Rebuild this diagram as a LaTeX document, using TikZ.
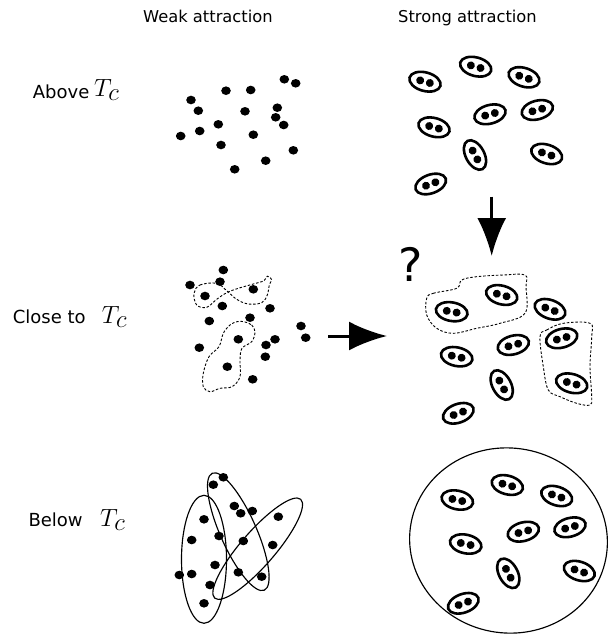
\documentclass[tikz,border=0pt]{standalone}
\usepackage{fontspec}
\setmainfont{DejaVu Sans}
\usetikzlibrary{arrows.meta}
\begin{document}
\begin{tikzpicture}[x=1pt,y=-1pt,
  pairline/.style={line width=2.6pt},
  thinell/.style={line width=1.15pt},
  dashoutline/.style={line width=0.9pt, dash pattern=on 2.5pt off 1.8pt},
  bigarrow/.style={line width=3pt,-{Latex[length=38pt,width=29pt]}},
  pr/.pic={\draw[pairline] (0,0) ellipse [x radius=16, y radius=9.3];
           \fill (-5,0) circle[radius=4]; \fill (5,0) circle[radius=4];},
  hdr/.style={anchor=base west, inner sep=0pt, font=\fontsize{16.3}{16.3}\selectfont},
  lbl/.style={anchor=base west, inner sep=0pt, font=\fontsize{18}{18}\selectfont},
  tc/.style={anchor=base west, inner sep=0pt, font=\fontsize{33}{33}\selectfont},
  qm/.style={anchor=base west, inner sep=0pt, font=\fontsize{46}{46}\selectfont}
]
\fill[white] (0,0) rectangle (611,637);
\useasboundingbox (0,0) rectangle (611,637);

% headers
\node[hdr] (hweak) at (143,23) {Weak attraction};
\node[hdr] (hstrong) at (398,23) {Strong attraction};

% row labels
\node[lbl] (labove) at (32.7,98.3) {Above};
\node[tc] (tabove) at (94,96.7) {$T_c$};
\node[lbl] (lclose) at (12.7,323.3) {Close to};
\node[tc] (tclose) at (101.7,323.3) {$T_c$};
\node[lbl] (lbelow) at (28.3,526.7) {Below};
\node[tc] (tbelow) at (100,526.7) {$T_c$};

% question mark
\node[qm] (qmark) at (398,281) {?};

% dots, top-left
\foreach \x/\y in {284.3/79.3,295.7/83.3,226/90.7,250.7/90,191/100,198.3/110.7,245/111.3,277.3/107.7,275.7/117.3,283.7/125,218.3/124.3,199.7/131,180.7/136,253.3/134.7,221/145,293.3/150.3,265.7/160.7,234.7/169.3}
  \fill (\x,\y) ellipse [x radius=4.8, y radius=4.3];

% dots, middle-left
\foreach \x/\y in {223.3/270,190/285,220/281.7,205/296,253.3/289.3,222.3/306,270/308.3,209.3/321,250/317.7,301/326,305.7/337.7,238.3/339.3,275/339.3,266/345,199.3/347.7,265.3/356.7,227.3/366.7,252.7/379.3}
  \fill (\x,\y) ellipse [x radius=4.8, y radius=4.3];

% dots, bottom-left
\foreach \x/\y in {223.3/477.3,213.3/484.7,234.3/506,240.7/513.3,252.3/511,278.3/516.7,204/519.3,219/536,191.7/540,243.3/541,272.7/545,215/565,179.3/575,191.7/574,238.3/572.3,261.7/576.7,210/585,204/603.3}
  \fill (\x,\y) ellipse [x radius=4.8, y radius=4.3];

% pairs, top-right
\foreach \x/\y/\a in {425/81.7/-15,475.7/66.7/-15,524/77.3/-18,490/114.3/15,537.3/110/15,434/127.3/-15,475/155/-62,546.7/154/-18,430.7/184/20}
  \pic[rotate=\a] at (\x,\y) {pr};

% pairs, middle-right
\foreach \x/\y/\a in {451.7/311.7/-10,501.7/295/-15,550/309.3/-20,513.3/345/15,561.7/338.3/15,456.7/356.7/-12,501.7/385/-62,571.7/383.3/-15,458.3/413.3/20}
  \pic[rotate=\a] at (\x,\y) {pr};

% pairs, bottom-right
\foreach \x/\y/\a in {457.3/500/-12,507.3/485/-15,556.7/496/-18,523.3/531.7/15,570/527.3/15,465.7/544/-12,508.3/573.3/-62,579.3/571/-18,463.3/603.3/20}
  \pic[rotate=\a] at (\x,\y) {pr};

% dashed outlines, middle-left
\draw[dashoutline] plot[smooth cycle, tension=0.6] coordinates {(194,293.3) (200,285) (216.7,283.3) (226.7,290.7) (236.7,299.3) (248.3,304) (261.7,302.7) (267.3,295) (269.3,285) (271.5,279.3) (267.3,276.2) (264,280.7) (253.3,284) (238.3,288.3) (226.7,292.7) (216.7,299.3) (206.7,307.3) (196.7,305)};
\draw[dashoutline] plot[smooth cycle, tension=0.6] coordinates {(244,321.7) (251.7,325) (255,332) (251.7,341.7) (242,348.3) (240,360) (240,376.7) (232,386.7) (220,388.3) (210,391.7) (203.3,386.7) (203.3,373.3) (209,356.7) (219,346.7) (223.3,333.3) (230,325) (237,321.7)};

% dashed outlines, middle-right
\draw[dashoutline] plot[smooth cycle, tension=0.6] coordinates {(426.7,298.3) (433.3,293.3) (456.7,288.3) (461.7,280) (476.7,276.7) (503.3,275) (525,275) (526,286.7) (525,313.3) (500,323.3) (476.7,328.3) (453.3,333.3) (436.7,328.3) (426.7,315)};
\draw[dashoutline] plot[smooth cycle, tension=0.6] coordinates {(540,336.7) (546.7,330) (563.3,323.3) (590,323.3) (591.7,336.7) (590,366.7) (591.7,396.7) (590,405) (576.7,403.3) (560,396.7) (548.3,390) (543.3,366.7)};

% ellipses, bottom-left
\draw[thinell] (204,559.3) ellipse [x radius=22.5, y radius=64];
\draw[thinell, rotate around={-66:(238.3,531.7)}] (238.3,531.7) ellipse [x radius=64, y radius=18];
\draw[thinell, rotate around={49:(257.7,548.7)}] (257.7,548.7) ellipse [x radius=65.5, y radius=17];

% big circle, bottom-right
\draw[thinell, rotate around={-8:(508.5,540.5)}] (508.5,540.5) ellipse [x radius=99, y radius=92.5];

% arrows
\coordinate (dstart) at (491.7,196.7);
\coordinate (dend) at (491.7,256);
\draw[bigarrow] (dstart) -- (dend);
\coordinate (hstart) at (328.3,336);
\coordinate (hend) at (387,336);
\draw[bigarrow] (hstart) -- (hend);
\end{tikzpicture}
\end{document}
